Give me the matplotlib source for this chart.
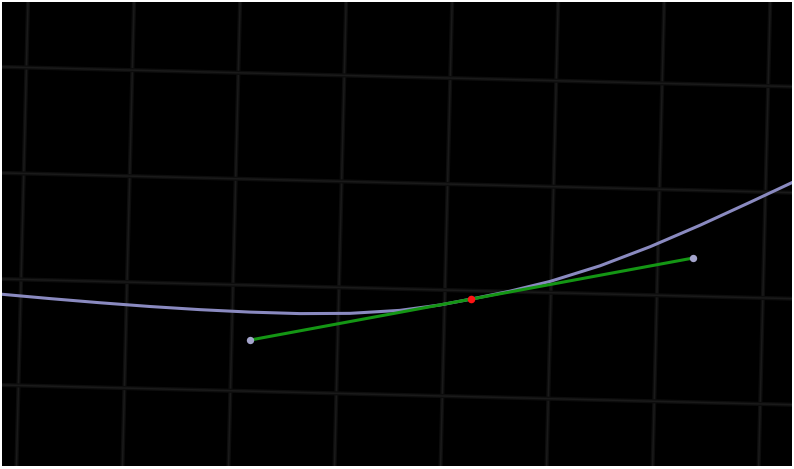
import matplotlib
matplotlib.use('Agg')
import matplotlib.pyplot as plt
from matplotlib.transforms import Affine2D

# Kurve (Weltkoordinaten)
curve_u = [-4.35, -4.197, -3.724, -3.252, -2.779, -2.307, -1.834, -1.362, -0.891,
           -0.420, -0.044, 0.257, 0.614, 0.989, 1.457, 1.924, 2.391, 2.857,
           3.267, 3.416]
curve_v = [-0.133, -0.143, -0.1737, -0.2011, -0.2248, -0.2427, -0.2541, -0.2565,
           -0.2424, -0.2024, -0.1422, -0.0775, 0.0046, 0.1059, 0.2650, 0.4565,
           0.6713, 0.8996, 1.1046, 1.179]

# Tangente am Punkt
tangent_u = [-1.828, 2.332]
tangent_v = [-0.518, 0.360]
point_u = [0.252]
point_v = [-0.079]

# Gitter
grid_u = [-5, -4, -3, -2, -1, 0, 1, 2, 3, 4]
grid_v = [-2, -1, 0, 1, 2, 3]

rotation_deg = -1.43

fig = plt.figure(figsize=(7.94, 4.69), dpi=100)
fig.patch.set_facecolor('white')
ax = fig.add_axes([2 / 794, 3 / 469, 790 / 794, 464 / 469])
ax.set_facecolor('black')
ax.set_xlim(-4.179, 3.274)
ax.set_ylim(-1.660, 2.717)
ax.set_xticks([])
ax.set_yticks([])
for s in ax.spines.values():
    s.set_visible(False)

rot = Affine2D().rotate_deg(rotation_deg) + ax.transData

# Gitterlinien (weich: breite, schwache Linie + schmale Linie)
for gu in grid_u:
    ax.plot([gu, gu], [grid_v[0] - 1, grid_v[-1] + 1], color='#0d0d0d', lw=3.0,
            transform=rot, zorder=1)
    ax.plot([gu, gu], [grid_v[0] - 1, grid_v[-1] + 1], color='#1a1a1a', lw=1.1,
            transform=rot, zorder=1)
for gv in grid_v:
    ax.plot([grid_u[0] - 1, grid_u[-1] + 1], [gv, gv], color='#0d0d0d', lw=3.0,
            transform=rot, zorder=1)
    ax.plot([grid_u[0] - 1, grid_u[-1] + 1], [gv, gv], color='#1a1a1a', lw=1.1,
            transform=rot, zorder=1)

# Kurve
ax.plot(curve_u, curve_v, color='#8a8ac0', lw=2.2, transform=rot, zorder=2,
        solid_capstyle='round', solid_joinstyle='round')

# Tangente
ax.plot(tangent_u, tangent_v, color='#149614', lw=2.2, transform=rot, zorder=3)
ax.scatter(tangent_u, tangent_v, s=28, color='#a4a4cc', transform=rot, zorder=4,
           linewidths=0)
ax.scatter(point_u, point_v, s=30, color='#ff1414', transform=rot, zorder=5,
           linewidths=0)

plt.savefig('out.png', dpi=100, facecolor=fig.get_facecolor())
plt.close()
